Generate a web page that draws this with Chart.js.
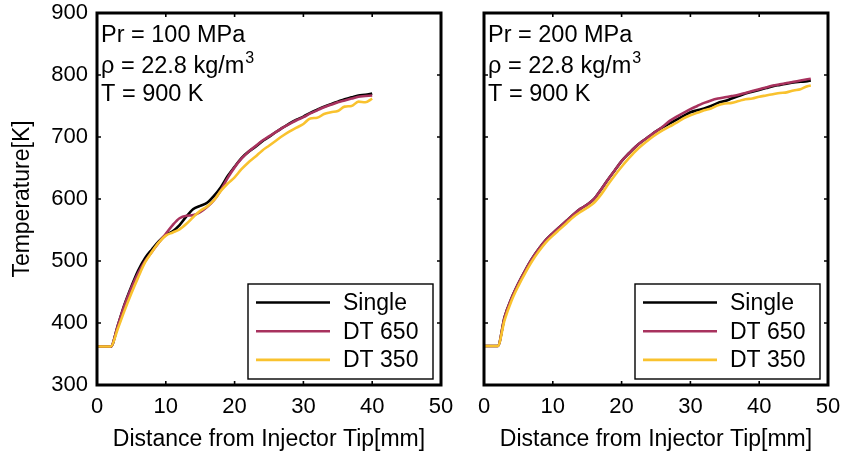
<!DOCTYPE html>
<html>
<head>
<meta charset="utf-8">
<script src="https://cdn.jsdelivr.net/npm/chart.js@4/dist/chart.umd.min.js"></script>
<style>
  html, body { margin: 0; padding: 0; background: #ffffff; }
  #wrap { position: relative; width: 844px; height: 456px; overflow: hidden; }
  canvas { position: absolute; top: 0; }
  #cL { left: 0; }
  #cR { left: 462px; }
</style>
</head>
<body>
<div id="wrap">
  <canvas id="cL" width="462" height="456"></canvas>
  <canvas id="cR" width="382" height="456"></canvas>
</div>
<script>
// ---------- data ----------
const seriesNames = ['Single', 'DT 650', 'DT 350'];
const seriesColors = ['#000000', '#A8325E', '#F9C22E'];

const xL = [0, 2, 3, 4, 5, 6, 7, 8, 9, 10, 11, 12, 13, 14, 15, 16, 17, 18, 19, 20,
            21, 22, 23, 24, 25, 26, 27, 28, 29, 30, 31, 32, 33, 34, 35, 36, 37, 38, 39, 40];
const singleL = [362, 362, 395, 430, 459, 485, 505, 519, 532, 542, 548, 558, 572, 584, 589, 594, 605, 619, 637, 652,
                 666, 676, 684, 693, 700, 708, 715, 722, 728, 733, 739, 744, 749, 753, 757, 761, 764, 767, 768, 770];
const dt650L = [362, 362, 395, 429, 457, 481, 500, 515, 530, 544, 558, 569, 573, 574, 579, 587, 598, 614, 634, 651,
                665, 676, 685, 694, 701, 708, 715, 721, 727, 732, 738, 743, 748, 752, 756, 759, 762, 765, 766, 767];
const dt350L = [362, 362, 390, 420, 448, 474, 498, 515, 530, 541, 546, 551, 560, 571, 581, 588, 598, 613, 625, 635,
                648, 659, 668, 678, 686, 694, 702, 709, 715, 721, 730, 731, 737, 740, 742, 749, 750, 757, 756, 762];

const xR = [0, 2, 3, 4, 5, 6, 7, 8, 9, 10, 11, 12, 13, 14, 15, 16, 17, 18, 19, 20,
            21, 22, 23, 24, 25, 26, 27, 28, 29, 30, 31, 32, 33, 34, 35, 36, 37, 38, 39, 40,
            41, 42, 43, 44, 45, 46, 47, 47.5];
const singleR = [363, 363, 410, 440, 464, 485, 504, 520, 534, 545, 555, 565, 575, 584, 591, 600, 615, 631, 646, 661,
                 673, 684, 693, 701, 709, 716, 722, 728, 734, 740, 743, 746, 750, 755, 758, 762, 766, 770, 773, 776,
                 779, 782, 784, 786, 788, 789, 790, 791];
const dt650R = [363, 363, 410, 440, 464, 485, 504, 520, 534, 545, 555, 565, 575, 584, 591, 600, 615, 631, 646, 661,
                673, 684, 693, 701, 709, 717, 726, 733, 739, 745, 750, 755, 759, 762, 764, 766, 768, 771, 774, 777,
                780, 783, 785, 787, 789, 791, 793, 794];
const dt350R = [363, 363, 405, 436, 460, 481, 500, 516, 530, 541, 551, 561, 571, 579, 586, 594, 607, 623, 638, 652,
                665, 677, 687, 696, 704, 711, 717, 723, 730, 735, 739, 743, 746, 751, 754, 755, 758, 761, 762, 765,
                767, 769, 771, 772, 775, 777, 782, 783];

const yTicks = [300, 400, 500, 600, 700, 800, 900];
const xTicks = [0, 10, 20, 30, 40, 50];

const notesL = ['Pr = 100 MPa', 'ρ = 22.8 kg/m', 'T = 900 K'];
const notesR = ['Pr = 200 MPa', 'ρ = 22.8 kg/m', 'T = 900 K'];
const notesSup = '3';

const xTitle = 'Distance from Injector Tip[mm]';
const yTitle = 'Temperature[K]';

// ---------- helpers ----------
const FONT = '"Liberation Sans", Arial, Helvetica, sans-serif';

function makeDatasets(xs, ys) {
  return ys.map((arr, k) => ({
    label: seriesNames[k],
    data: xs.map((x, i) => ({ x: x, y: arr[i] })),
    borderColor: seriesColors[k],
    backgroundColor: seriesColors[k],
    borderWidth: 2.6,
    pointRadius: 0,
    fill: false,
    cubicInterpolationMode: 'monotone',
    order: 2 - k
  }));
}

const framePlugin = {
  id: 'frame',
  afterDatasetsDraw(chart, args, opts) {
    const ctx = chart.ctx;
    const a = chart.chartArea;
    const xs = chart.scales.x, ys = chart.scales.y;
    ctx.save();
    ctx.strokeStyle = '#000';
    ctx.lineWidth = 1.6;
    const tl = 4;
    xTicks.forEach(v => {
      const px = xs.getPixelForValue(v);
      if (px <= a.left + 1 || px >= a.right - 1) return;
      ctx.beginPath();
      ctx.moveTo(px, a.bottom); ctx.lineTo(px, a.bottom - tl);
      ctx.moveTo(px, a.top); ctx.lineTo(px, a.top + tl);
      ctx.stroke();
    });
    yTicks.forEach(v => {
      const py = ys.getPixelForValue(v);
      if (py <= a.top + 1 || py >= a.bottom - 1) return;
      ctx.beginPath();
      ctx.moveTo(a.left, py); ctx.lineTo(a.left + tl, py);
      ctx.moveTo(a.right, py); ctx.lineTo(a.right - tl, py);
      ctx.stroke();
    });
    ctx.lineWidth = 3;
    ctx.strokeRect(a.left, a.top, a.right - a.left, a.bottom - a.top);

    // annotation text
    const notes = opts.notes;
    ctx.fillStyle = '#000';
    ctx.textBaseline = 'alphabetic';
    ctx.textAlign = 'left';
    ctx.font = '23.5px ' + FONT;
    const tx = a.left + 4;
    const base = [a.top + 29, a.top + 59.5, a.top + 88];
    notes.forEach((t, i) => ctx.fillText(t, tx, base[i]));
    const w = ctx.measureText(notes[1]).width;
    ctx.font = '16px ' + FONT;
    ctx.fillText(notesSup, tx + w + 1, base[1] - 10);

    // legend box
    const bw = 185, bh = 95;
    const bx = a.right - 8 - bw, by = a.bottom - 6 - bh;
    ctx.fillStyle = '#fff';
    ctx.fillRect(bx, by, bw, bh);
    ctx.lineWidth = 1.4;
    ctx.strokeStyle = '#000';
    ctx.strokeRect(bx, by, bw, bh);
    ctx.font = '23px ' + FONT;
    ctx.textBaseline = 'middle';
    chart.data.datasets.forEach((ds, i) => {
      const ly = by + 18.5 + i * 28.7;
      ctx.strokeStyle = ds.borderColor;
      ctx.lineWidth = 2.6;
      ctx.beginPath();
      ctx.moveTo(bx + 8, ly); ctx.lineTo(bx + 82, ly);
      ctx.stroke();
      ctx.fillStyle = '#000';
      ctx.fillText(ds.label, bx + 95, ly + 1);
    });
    ctx.restore();
  }
};

function makeChart(id, xs, ys, notes, showY, padding) {
  return new Chart(document.getElementById(id), {
    type: 'line',
    data: { datasets: makeDatasets(xs, ys) },
    options: {
      responsive: false,
      animation: false,
      devicePixelRatio: 1,
      layout: { padding: padding },
      plugins: {
        legend: { display: false },
        tooltip: { enabled: false },
        frame: { notes: notes }
      },
      scales: {
        x: {
          type: 'linear',
          min: 0, max: 50,
          afterBuildTicks(scale) { scale.ticks = xTicks.map(v => ({ value: v })); },
          grid: { display: false, drawTicks: false },
          border: { display: false },
          ticks: { color: '#000', font: { size: 22, family: FONT }, padding: 9, maxRotation: 0 },
          title: { display: true, text: xTitle, color: '#000', font: { size: 23, family: FONT }, padding: { top: 0, bottom: 3 } },
          afterFit(scale) {
            scale.height = 71;
            scale.paddingLeft = 0; scale.paddingRight = 0;
          }
        },
        y: {
          type: 'linear',
          min: 300, max: 900,
          display: showY,
          afterBuildTicks(scale) { scale.ticks = yTicks.map(v => ({ value: v })); },
          grid: { display: false, drawTicks: false },
          border: { display: false },
          ticks: { color: '#000', font: { size: 22, family: FONT }, padding: 9 },
          title: { display: true, text: yTitle, color: '#000', font: { size: 23, family: FONT }, padding: { top: 9, bottom: 0 } },
          afterFit(scale) {
            if (showY) scale.width = 97;
            scale.paddingTop = 0; scale.paddingBottom = 0;
          }
        }
      }
    },
    plugins: [framePlugin]
  });
}

makeChart('cL', xL, [singleL, dt650L, dt350L], notesL, true, { left: 0, right: 21, top: 13, bottom: 0 });
makeChart('cR', xR, [singleR, dt650R, dt350R], notesR, false, { left: 22, right: 16, top: 13, bottom: 0 });
</script>
</body>
</html>
